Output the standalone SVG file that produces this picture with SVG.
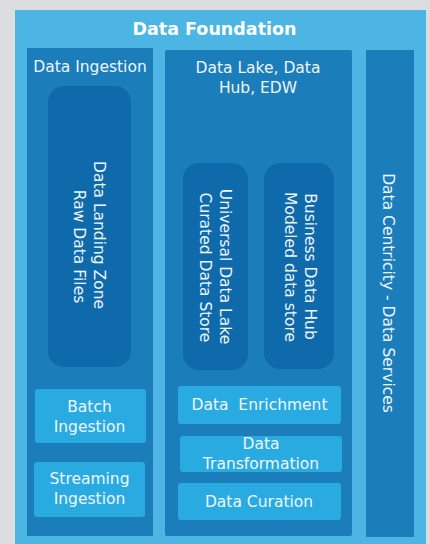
<svg xmlns="http://www.w3.org/2000/svg" width="430" height="544" viewBox="0 0 430 544">
<style>
text{font-family:"DejaVu Sans","Verdana",sans-serif;fill:#eef6fb;font-size:15.5px;text-anchor:middle}
.title{font-weight:bold;font-size:17.5px;fill:#ffffff}
.col{fill:#1b7dba}
.store{fill:#0f6aab}
.btn{fill:#29abe2}
</style>
<rect x="0" y="0" width="430" height="544" fill="#dcdddf"/>
<rect x="15" y="10" width="411" height="540" fill="#4cb5e3"/>
<text class="title" x="214.5" y="35">Data Foundation</text>
<g id="data-ingestion">
<rect class="col" x="27" y="48" width="126" height="488"/>
<text x="90" y="72">Data Ingestion</text>
</g>
<g id="data-lake">
<rect class="col" x="165" y="50" width="187" height="486" rx="2"/>
<text x="258" y="73">Data Lake, Data</text>
<text x="258" y="93">Hub, EDW</text>
</g>
<g id="data-centricity">
<rect class="col" x="366" y="50" width="48" height="487"/>
<text transform="translate(383,293) rotate(90)">Data Centricity - Data Services</text>
</g>
<g id="landing-zone">
<rect class="store" x="48" y="86" width="83" height="281" rx="16"/>
<text transform="translate(94,235) rotate(90)">Data Landing Zone</text>
<text transform="translate(74,246.5) rotate(90)">Raw Data Files</text>
</g>
<g id="universal-lake">
<rect class="store" x="183" y="163" width="65" height="207" rx="16"/>
<text transform="translate(220,266.5) rotate(90)">Universal Data Lake</text>
<text transform="translate(200,267.5) rotate(90)">Curated Data Store</text>
</g>
<g id="business-hub">
<rect class="store" x="264" y="163" width="70" height="206" rx="16"/>
<text transform="translate(305,266.5) rotate(90)">Business Data Hub</text>
<text transform="translate(285,267) rotate(90)">Modeled data store</text>
</g>
<g id="batch-ingestion">
<rect class="btn" x="35" y="389" width="111" height="54" rx="3"/>
<text x="89.5" y="412">Batch</text>
<text x="89.5" y="432">Ingestion</text>
</g>
<g id="streaming-ingestion">
<rect class="btn" x="34" y="462" width="111" height="55" rx="3"/>
<text x="89.5" y="484">Streaming</text>
<text x="89.5" y="504">Ingestion</text>
</g>
<g id="data-enrichment">
<rect class="btn" x="178" y="386" width="163" height="38" rx="3"/>
<text x="259.5" y="410" xml:space="preserve">Data  Enrichment</text>
</g>
<g id="data-transformation">
<rect class="btn" x="180" y="436" width="162" height="36" rx="3"/>
<text x="261" y="449">Data</text>
<text x="261" y="469">Transformation</text>
</g>
<g id="data-curation">
<rect class="btn" x="178" y="483" width="163" height="37" rx="3"/>
<text x="259" y="507">Data Curation</text>
</g>
<g id="connectors"></g>
</svg>
